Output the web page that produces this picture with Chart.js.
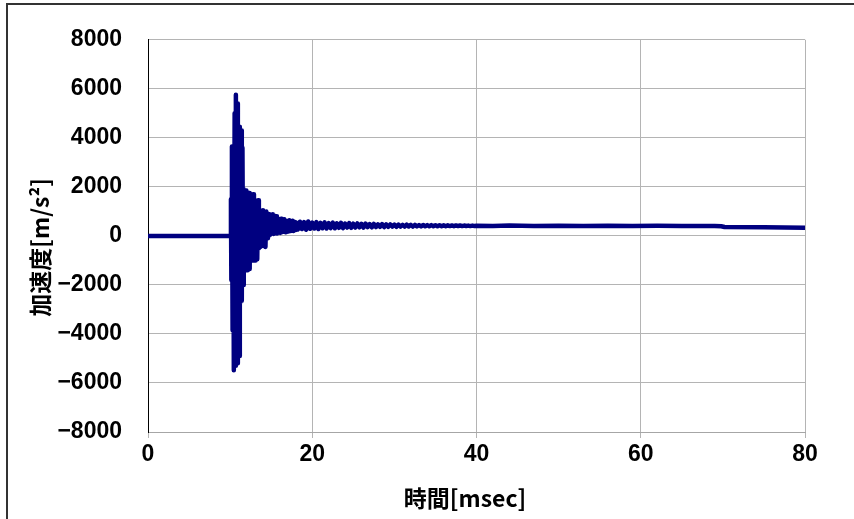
<!DOCTYPE html>
<html>
<head>
<meta charset="utf-8">
<script src="https://cdn.jsdelivr.net/npm/chart.js@4"></script>
<style>
  html, body { margin: 0; padding: 0; background: #fff; }
  #wrap { width: 854px; height: 519px; }
</style>
</head>
<body>
<div id="wrap"><canvas id="chart" width="854" height="519"></canvas></div>
<script>
// time [msec]
const times = [
  0, 10.0, 10.1, 10.15, 10.22, 10.3, 10.38, 10.45, 10.55, 10.62,
  10.7, 10.78, 10.86, 10.94, 11.02, 11.1, 11.18, 11.26, 11.34, 11.42,
  11.5, 11.58, 11.66, 11.74, 11.82, 11.9, 11.98, 12.06, 12.14, 12.22,
  12.3, 12.38, 12.46, 12.54, 12.62, 12.7, 12.8, 12.9, 13.0, 13.1,
  13.2, 13.3, 13.4, 13.5, 13.6, 13.7, 13.8, 13.9, 14.0, 14.1,
  14.2, 14.3, 14.4, 14.5, 14.6, 14.7, 14.8, 14.9, 15.0, 15.1,
  15.2, 15.3, 15.4, 15.5, 15.6, 15.7, 15.8, 15.9, 16.0, 16.1,
  16.2, 16.3, 16.4, 16.5, 16.6, 16.7, 16.8, 16.9, 17.0, 17.1,
  17.2, 17.3, 17.4, 17.5, 17.6, 17.7, 17.8, 17.9, 18.0, 18.25,
  18.5, 18.75, 19.0, 19.25, 19.5, 19.75, 20.0, 20.25, 20.5, 20.75,
  21.0, 21.25, 21.5, 21.75, 22.0, 22.25, 22.5, 22.75, 23.0, 23.25,
  23.5, 23.75, 24.0, 24.25, 24.5, 24.75, 25.0, 25.25, 25.5, 25.75,
  26.0, 26.25, 26.5, 26.75, 27.0, 27.25, 27.5, 27.75, 28.0, 28.25,
  28.5, 28.75, 29.0, 29.25, 29.5, 29.75, 30.0, 30.25, 30.5, 30.75,
  31.0, 31.25, 31.5, 31.75, 32.0, 32.25, 32.5, 32.75, 33.0, 33.25,
  33.5, 33.75, 34.0, 34.25, 34.5, 34.75, 35.0, 35.25, 35.5, 35.75,
  36.0, 36.25, 36.5, 36.75, 37.0, 37.25, 37.5, 37.75, 38.0, 38.25,
  38.5, 38.75, 39.0, 39.25, 39.5, 39.75, 40.0, 42, 44, 47,
  50, 53, 56, 59, 62, 65, 69, 69.8, 70.2, 75,
  80
];

// acceleration [m/s2]
const accel = [
  0, 0, 1500, -1800, 3650, -3850, 3600, -5480, 5000, -5300,
  5760, -5000, 5400, -5200, 4400, -4900, 4450, -2700, 4300, -2650,
  3600, -2000, 1900, -1400, 1800, -1350, 1850, -1400, 1700, -1050,
  1750, -1350, 1700, -1000, 1650, -1000, 1700, -980, 1450, -1000,
  1400, -950, 1450, -500, 1050, -450, 1000, -400, 1050, -350,
  950, -450, 1000, -100, 900, 0, 880, 50, 850, 100,
  880, 80, 820, 120, 800, 100, 700, 150, 680, 120,
  700, 150, 650, 180, 680, 150, 620, 200, 600, 180,
  640, 200, 600, 220, 620, 200, 580, 240, 560, 260,
  580, 280, 560, 250, 590, 290, 540, 300, 560, 280,
  530, 310, 550, 300, 520, 320, 540, 310, 510, 330,
  530, 320, 500, 340, 520, 330, 500, 340, 510, 350,
  490, 340, 500, 360, 480, 350, 490, 360, 470, 370,
  480, 360, 470, 370, 470, 380, 460, 370, 460, 380,
  450, 380, 460, 385, 450, 380, 450, 390, 440, 385,
  445, 390, 440, 390, 440, 395, 435, 390, 435, 395,
  430, 395, 430, 400, 425, 395, 428, 400, 425, 400,
  422, 402, 420, 400, 420, 405, 418, 405, 420, 402,
  415, 400, 412, 400, 410, 400, 405, 395, 365, 355,
  335
];

const xTicks = [0, 20, 40, 60, 80];
const yTicks = [-8000, -6000, -4000, -2000, 0, 2000, 4000, 6000, 8000];

const tickFont = { family: "'Liberation Sans', Arial, sans-serif", size: 23, weight: "bold" };
const titleFont = { family: "'Noto Sans CJK JP', sans-serif", size: 23, weight: "bold" };

// outer frame, cut off at the right and bottom like the original
const framePlugin = {
  id: "frame",
  afterDraw(c) {
    const ctx = c.ctx;
    ctx.save();
    ctx.strokeStyle = "#333";
    ctx.lineWidth = 2;
    ctx.beginPath();
    ctx.moveTo(7, 519);
    ctx.lineTo(7, 4);
    ctx.lineTo(854, 4);
    ctx.stroke();
    ctx.restore();
  }
};

new Chart(document.getElementById("chart"), {
  type: "line",
  data: {
    datasets: [{
      data: times.map((t, i) => ({ x: t, y: accel[i] })),
      borderColor: "#000080",
      borderWidth: 4.5,
      borderJoinStyle: "round",
      borderCapStyle: "round",
      pointRadius: 0,
      tension: 0,
      fill: false
    }]
  },
  options: {
    responsive: false,
    animation: false,
    layout: { padding: { top: 37, right: 49, left: 0, bottom: 0 } },
    plugins: { legend: { display: false }, tooltip: { enabled: false } },
    scales: {
      x: {
        type: "linear",
        min: 0,
        max: 80,
        afterBuildTicks: s => { s.ticks = xTicks.map(v => ({ value: v })); },
        afterFit: s => { s.height = 87; },
        grid: { color: "#b4b4b4", lineWidth: 1, tickLength: 6 },
        border: { color: "#a6a6a6", width: 1 },
        ticks: { color: "#000", font: tickFont, padding: 3, maxRotation: 0 },
        // trailing ideographic space nudges the title left, as in the original
        title: { display: true, text: "時間[msec]\u3000", color: "#000", font: titleFont, padding: { top: 0, bottom: 7 } }
      },
      y: {
        min: -8000,
        max: 8000,
        afterBuildTicks: s => { s.ticks = yTicks.map(v => ({ value: v })); },
        afterFit: s => { s.width = 148; },
        grid: { color: "#b4b4b4", lineWidth: 1, drawTicks: false },
        border: { color: "#000", width: 1 },
        ticks: {
          color: "#000",
          font: tickFont,
          padding: 26,
          callback: v => (v < 0 ? "\u2212" + Math.abs(v) : String(v))
        },
        title: { display: true, text: "加速度[m/s²]\u3000", color: "#000", font: titleFont, padding: { top: 26, bottom: 0 } }
      }
    }
  },
  plugins: [framePlugin]
});
</script>
</body>
</html>
